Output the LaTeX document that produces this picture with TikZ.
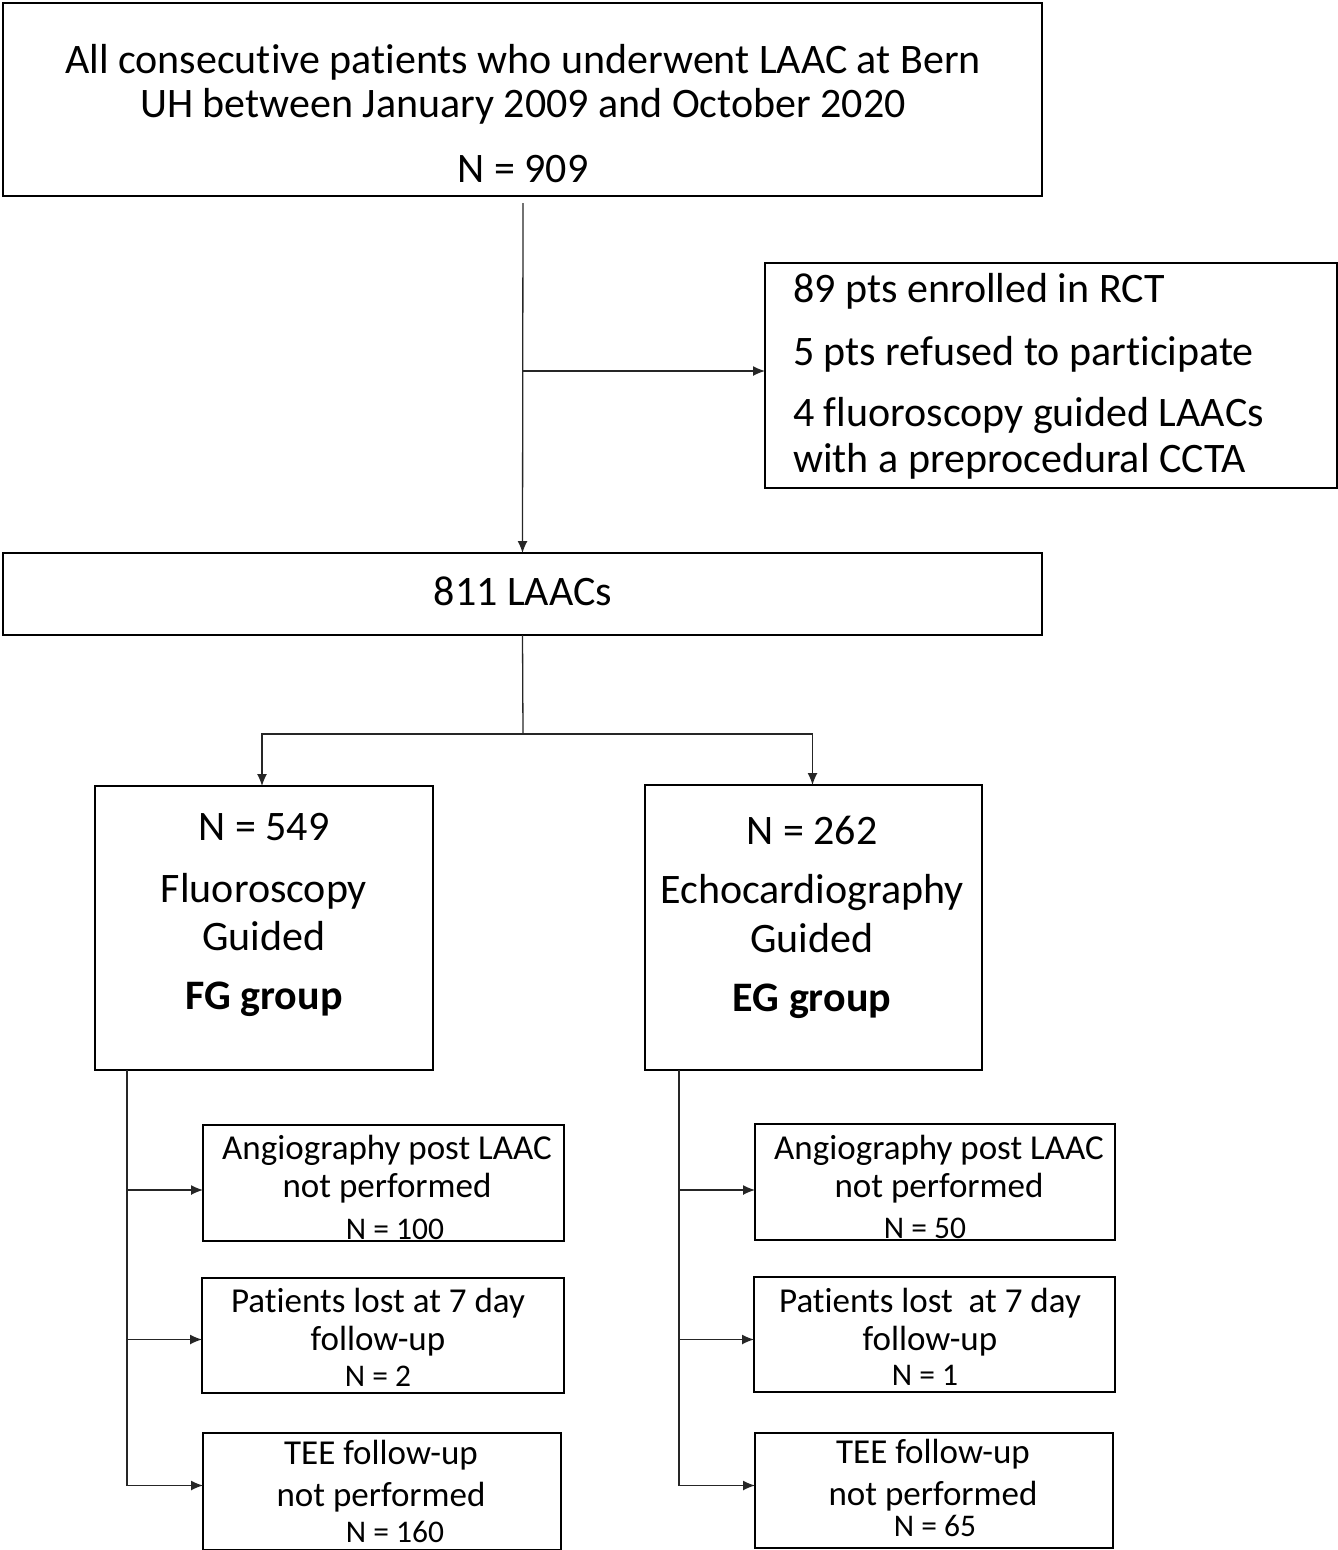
\documentclass[tikz,border=0pt]{standalone}
\usepackage{fontspec}
\setmainfont[Ligatures=NoCommon]{Carlito}
\usetikzlibrary{arrows.meta}
\begin{document}
\begin{tikzpicture}[x=1pt,y=-1pt,
  box/.style={draw=black,line width=1.8pt,rectangle,inner sep=0pt,outer sep=0pt},
  big/.style={inner sep=0pt,font=\fontsize{42}{50}\selectfont},
  bigb/.style={inner sep=0pt,font=\fontsize{42}{50}\selectfont\bfseries},
  mid/.style={inner sep=0pt,font=\fontsize{35}{42}\selectfont},
  sml/.style={inner sep=0pt,font=\fontsize{31.5}{38}\selectfont},
  conn/.style={draw=black!85,line width=1.3pt},
  arr/.style={conn,-{Latex[length=12pt,width=10pt]}}]
\useasboundingbox (0,0) rectangle (1338,1550);
% boxes
\node[box,minimum width=1039pt,minimum height=193pt] (top) at (522.5,99.5) {};
\node[box,minimum width=572pt,minimum height=225pt] (excl) at (1051,375.5) {};
\node[box,minimum width=1039pt,minimum height=82pt] (laac) at (522.5,594) {};
\node[box,minimum width=338pt,minimum height=284pt] (fg) at (264,928) {};
\node[box,minimum width=337pt,minimum height=285pt] (eg) at (813.5,927.5) {};
\node[box,minimum width=361pt,minimum height=116pt] (fa) at (383.5,1183) {};
\node[box,minimum width=362pt,minimum height=115pt] (fb) at (383,1335.5) {};
\node[box,minimum width=358pt,minimum height=117pt] (fc) at (382,1491.5) {};
\node[box,minimum width=360pt,minimum height=116pt] (ea) at (935,1182) {};
\node[box,minimum width=361pt,minimum height=115pt] (eb) at (934.5,1334.5) {};
\node[box,minimum width=358pt,minimum height=115pt] (ec) at (934,1490.5) {};
% texts
\node[big] (t1) at (523,62) {All consecutive patients who underwent LAAC at Bern};
\node[big] (t2) at (523,106) {UH between January 2009 and October 2020};
\node[big] (t3) at (523,169) {N = 909};
\node[big,anchor=west] (x1) at (793,291) {89 pts enrolled in RCT};
\node[big,anchor=west] (x2) at (793,354) {5 pts refused to participate};
\node[big,anchor=west] (x3) at (793,416) {4 fluoroscopy guided LAACs};
\node[big,anchor=west] (x4) at (793,461) {with a preprocedural CCTA};
\node[big] (l1) at (523,591) {811 LAACs};
\node[big] (g1) at (264,827) {N = 549};
\node[big] (g2) at (264,891) {Fluoroscopy};
\node[big] (g3) at (264,936) {Guided};
\node[bigb] (g4) at (264,999) {FG group};
\node[big] (e1) at (812,830) {N = 262};
\node[big] (e2) at (812,893) {Echocardiography};
\node[big] (e3) at (812,938) {Guided};
\node[bigb] (e4) at (812,1001) {EG group};
\node[mid] (fa1) at (387,1150) {Angiography post LAAC};
\node[mid] (fa2) at (387,1188) {not performed};
\node[sml] (fa3) at (395,1229) {N = 100};
\node[mid] (fb1) at (378,1303) {Patients lost at 7 day};
\node[mid] (fb2) at (378,1341) {follow-up};
\node[sml] (fb3) at (378,1376) {N = 2};
\node[mid] (fc1) at (381,1455) {TEE follow-up};
\node[mid] (fc2) at (381,1497) {not performed};
\node[sml] (fc3) at (395,1532) {N = 160};
\node[mid] (ea1) at (939,1150) {Angiography post LAAC};
\node[mid] (ea2) at (939,1188) {not performed};
\node[sml] (ea3) at (925,1228) {N = 50};
\node[mid] (eb1) at (930,1303) {Patients lost\ \ at 7 day};
\node[mid] (eb2) at (930,1341) {follow-up};
\node[sml] (eb3) at (925,1375) {N = 1};
\node[mid] (ec1) at (933,1454) {TEE follow-up};
\node[mid] (ec2) at (933,1496) {not performed};
\node[sml] (ec3) at (935,1526) {N = 65};
% connectors
\coordinate (s0) at (523,203);
\coordinate (j1) at (523,371);
\coordinate (split) at (523,734);
\coordinate (fs) at (127,1070);
\coordinate (es) at (679,1070);
\coordinate (faT) at ([yshift=-7pt]fa.west);
\coordinate (fbT) at ([yshift=-4pt]fb.west);
\coordinate (fcT) at ([yshift=6pt]fc.west);
\coordinate (eaT) at ([yshift=-8pt]ea.west);
\coordinate (ebT) at ([yshift=-5pt]eb.west);
\coordinate (ecT) at ([yshift=5pt]ec.west);
\draw[arr] (s0) -- (laac.north);
\draw[arr] (j1) -- (j1 -| excl.west);
\draw[conn] (laac.south) -- (split);
\draw[arr] (split) -| ([xshift=-2pt]fg.north);
\draw[arr] (split) -| ([xshift=-1pt]eg.north);
\draw[arr] (fs) |- (fcT);
\draw[arr] (fs |- faT) -- (faT);
\draw[arr] (fs |- fbT) -- (fbT);
\draw[arr] (es) |- (ecT);
\draw[arr] (es |- eaT) -- (eaT);
\draw[arr] (es |- ebT) -- (ebT);
\end{tikzpicture}
\end{document}
